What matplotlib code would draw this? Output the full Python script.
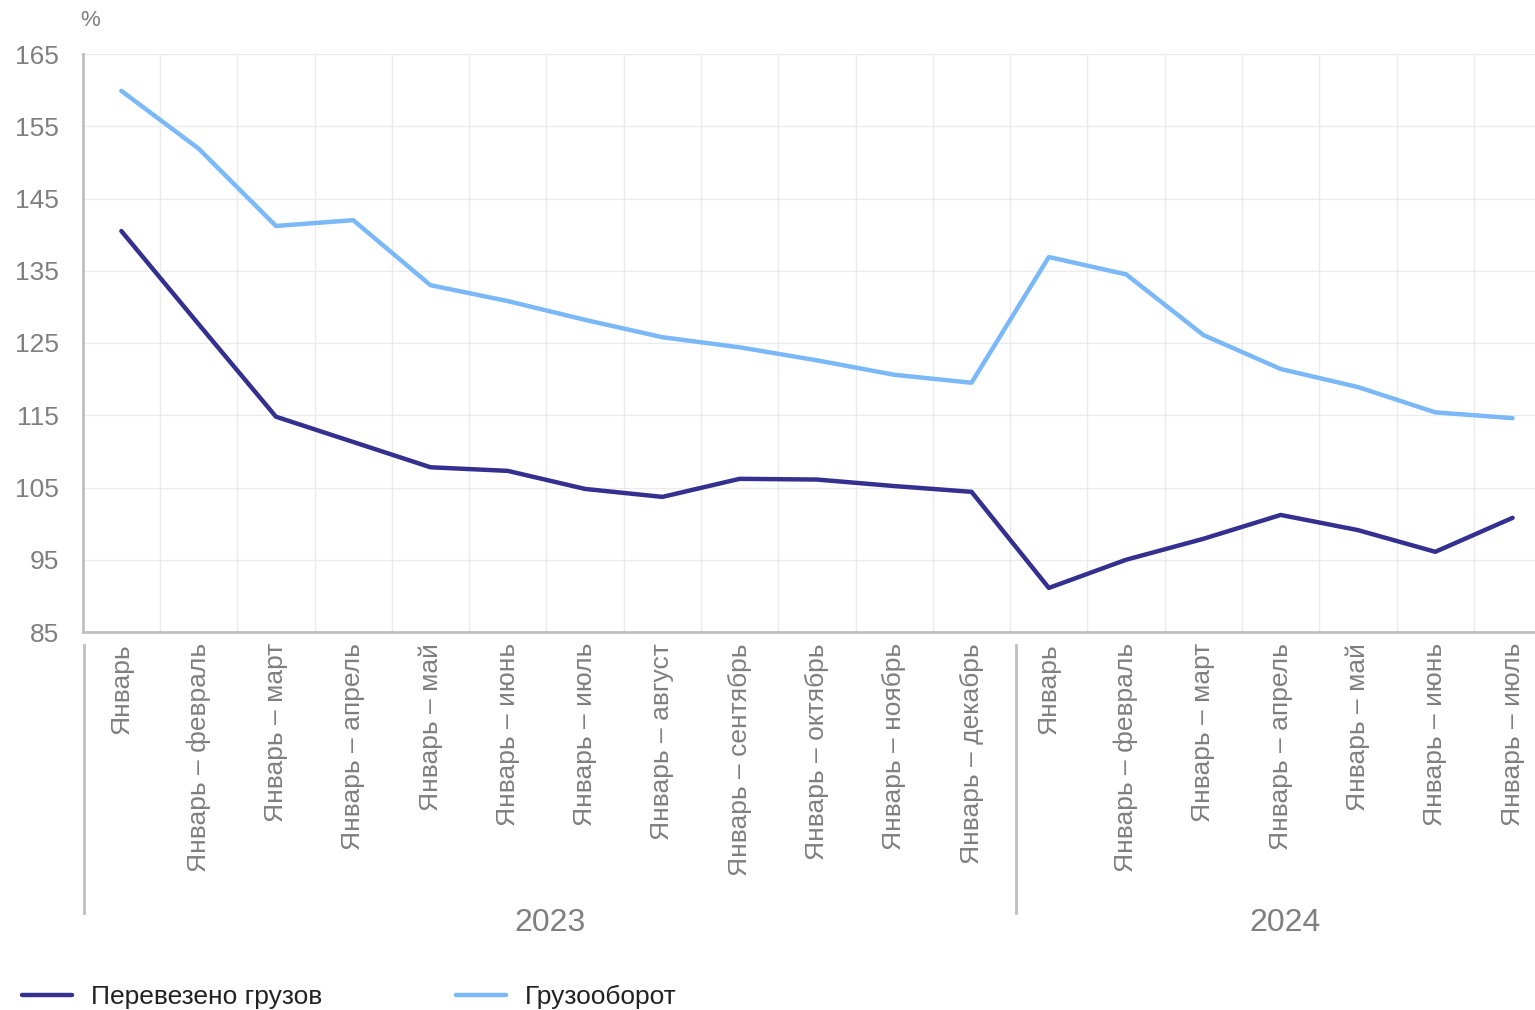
import matplotlib.pyplot as plt
import matplotlib.transforms as mtransforms

plt.rcParams["font.family"] = ["Liberation Sans", "DejaVu Sans"]

# data
months = [
    "Январь", "Январь – февраль", "Январь – март", "Январь – апрель",
    "Январь – май", "Январь – июнь", "Январь – июль", "Январь – август",
    "Январь – сентябрь", "Январь – октябрь", "Январь – ноябрь", "Январь – декабрь",
    "Январь", "Январь – февраль", "Январь – март", "Январь – апрель",
    "Январь – май", "Январь – июнь", "Январь – июль",
]
years = ["2023", "2024"]

cargo = [140.5, 127.6, 114.8, 111.3, 107.8, 107.3, 104.8, 103.7, 106.2, 106.1,
         105.2, 104.4, 91.1, 95.0, 97.9, 101.2, 99.1, 96.1, 100.8]
turnover = [159.9, 151.9, 141.2, 142.0, 133.0, 130.8, 128.2, 125.8, 124.4, 122.6,
            120.6, 119.5, 136.9, 134.5, 126.1, 121.4, 118.9, 115.4, 114.6]

dark = "#33308f"
light = "#7ab8f7"
grey_txt = "#7f7f7f"

W, H = 1535, 1010
fig = plt.figure(figsize=(W / 100, H / 100), dpi=100)
x0, x1, yb, yt = 82.7, 1535, 632, 54
ax = fig.add_axes([x0 / W, 1 - yb / H, (x1 - x0) / W, (yb - yt) / H])

xs = list(range(len(months)))
ax.plot(xs, cargo, color=dark, lw=3.2, solid_capstyle="round", label="Перевезено грузов")
ax.plot(xs, turnover, color=light, lw=3.2, solid_capstyle="round", label="Грузооборот")

ax.set_ylim(85, 165)
ax.set_yticks(range(85, 166, 10))
ax.set_xlim(-0.5, 18.29)
ax.set_xticks([i + 0.5 for i in xs[:-1]], minor=True)
ax.set_xticks(xs)
ax.set_xticklabels(months, rotation=90, va="top", ha="center")

ax.grid(True, axis="y", color="#ebebeb", lw=1)
ax.grid(True, axis="x", which="minor", color="#ebebeb", lw=1)
ax.set_axisbelow(True)
for s in ["top", "right"]:
    ax.spines[s].set_visible(False)
for s in ["left", "bottom"]:
    ax.spines[s].set_color("#bfbfbf")
    ax.spines[s].set_linewidth(2)

ax.tick_params(axis="y", length=0, pad=17, labelsize=19, labelcolor=grey_txt)
ax.tick_params(axis="x", which="both", length=0, pad=8, labelsize=19, labelcolor=grey_txt)

# year groups under the month labels
trans = mtransforms.blended_transform_factory(ax.transData, ax.transAxes)
y_top = (yb - 645) / (yb - yt)
y_bot = (yb - 913) / (yb - yt)
y_lab = (yb - 923) / (yb - yt)
bounds = [-0.48, 11.58, 18.52]
for i in range(2):
    ax.plot([bounds[i], bounds[i]], [y_top, y_bot], color="#bfbfbf", lw=2,
            transform=trans, clip_on=False)
    ax.text((bounds[i] + bounds[i + 1]) / 2, y_lab, years[i], transform=trans,
            ha="center", va="center", fontsize=23, color=grey_txt)

fig.text(90 / W, 1 - 21 / H, "%", ha="center", va="center", fontsize=16, color=grey_txt)

fig.legend(loc="center left", bbox_to_anchor=(22 / W, 1 - 997 / H), ncol=2,
           frameon=False, fontsize=19, handlelength=1.9, handletextpad=0.73,
           columnspacing=5.05, borderpad=0, borderaxespad=0, labelcolor="#222222")

fig.savefig("out.png", dpi=100)
